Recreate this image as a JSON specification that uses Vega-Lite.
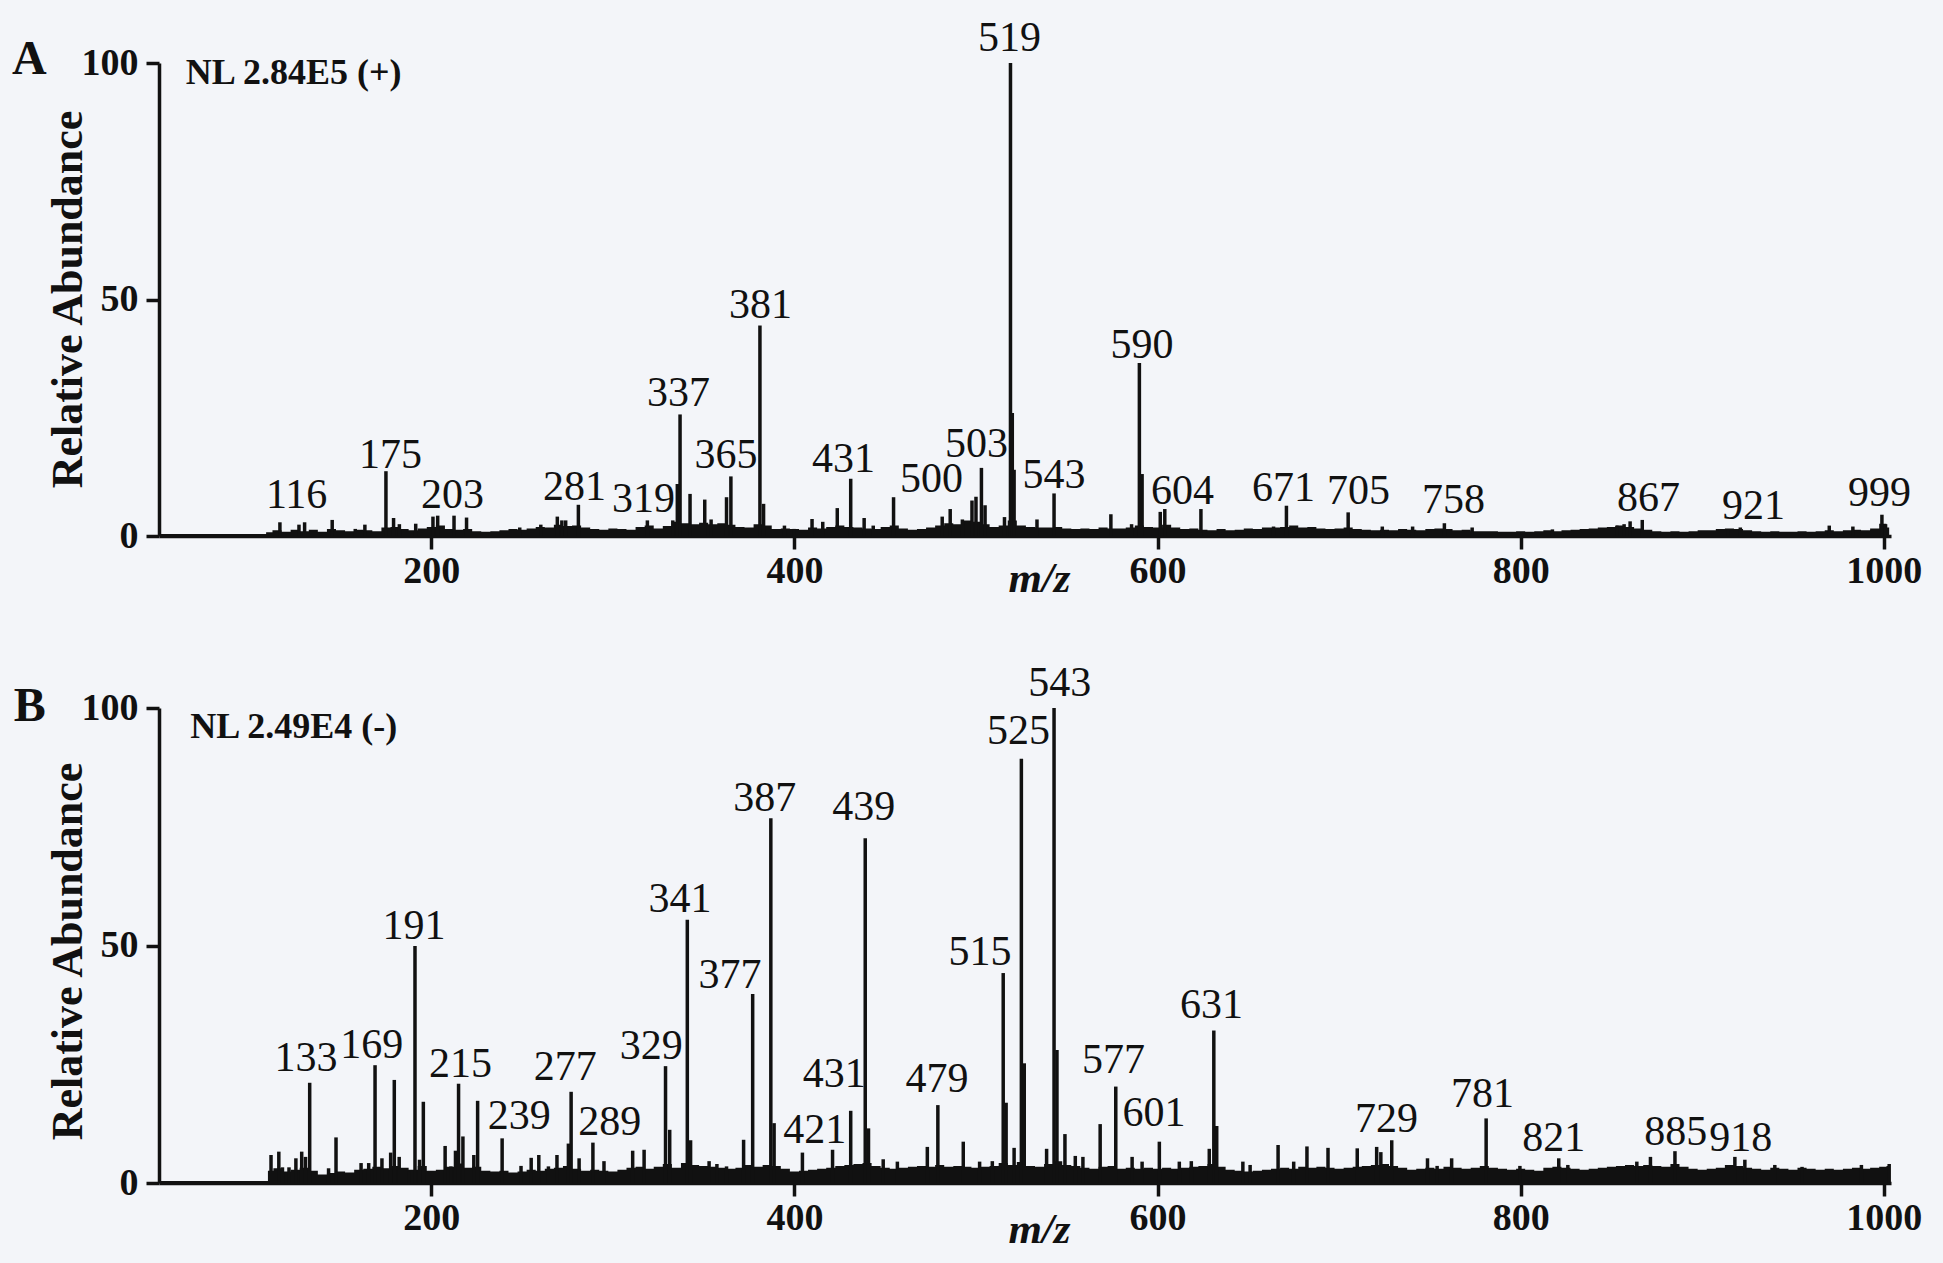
{
"$schema": "https://vega.github.io/schema/vega-lite/v6.json",
"background": "#F3F5F9",
"padding": {"left": 11, "top": 16, "right": 22, "bottom": 16},
"spacing": 61,
"config": {
 "view": {"stroke": null},
 "font": "Liberation Serif",
 "axis": {"domainColor": "#111111", "domainWidth": 3.5, "tickColor": "#111111", "tickWidth": 3.5, "tickSize": 13, "grid": false,
  "labelFont": "Liberation Serif", "labelFontWeight": "bold", "labelFontSize": 38, "labelColor": "#111111", "labelFlush": false, "labelOverlap": false,
  "titleFont": "Liberation Serif", "titleFontWeight": "bold", "titleColor": "#111111"}
},
"datasets": {
 "floorA": [
{"mz":50,"ab":0.4},{"mz":80,"ab":0.4},{"mz":108,"ab":0.4},{"mz":110,"ab":0.8},{"mz":115,"ab":1.2},{"mz":120,"ab":0.9},{"mz":125,"ab":1.3},{"mz":130,"ab":1.0},{"mz":135,"ab":1.3},{"mz":140,"ab":0.9},{"mz":145,"ab":1.5},{"mz":150,"ab":1.2},{"mz":155,"ab":1.0},{"mz":160,"ab":1.3},{"mz":165,"ab":1.2},{"mz":170,"ab":1.0},{"mz":175,"ab":1.8},{"mz":180,"ab":1.9},{"mz":185,"ab":1.5},{"mz":190,"ab":1.2},{"mz":195,"ab":1.6},{"mz":200,"ab":1.9},{"mz":205,"ab":2.2},{"mz":210,"ab":1.5},{"mz":215,"ab":1.3},{"mz":220,"ab":1.5},{"mz":225,"ab":1.0},{"mz":230,"ab":0.9},{"mz":235,"ab":1.0},{"mz":240,"ab":1.2},{"mz":245,"ab":1.5},{"mz":250,"ab":1.3},{"mz":255,"ab":1.6},{"mz":260,"ab":1.9},{"mz":265,"ab":1.8},{"mz":270,"ab":2.4},{"mz":275,"ab":2.1},{"mz":280,"ab":2.2},{"mz":285,"ab":1.8},{"mz":290,"ab":1.5},{"mz":295,"ab":1.3},{"mz":300,"ab":1.6},{"mz":305,"ab":1.5},{"mz":310,"ab":1.3},{"mz":315,"ab":1.9},{"mz":320,"ab":2.2},{"mz":325,"ab":1.6},{"mz":330,"ab":2.1},{"mz":335,"ab":3.0},{"mz":340,"ab":2.7},{"mz":345,"ab":2.5},{"mz":350,"ab":2.8},{"mz":355,"ab":2.5},{"mz":360,"ab":2.7},{"mz":365,"ab":2.4},{"mz":370,"ab":1.9},{"mz":375,"ab":1.8},{"mz":380,"ab":2.5},{"mz":385,"ab":2.2},{"mz":390,"ab":1.5},{"mz":395,"ab":1.6},{"mz":400,"ab":1.5},{"mz":405,"ab":1.3},{"mz":410,"ab":1.8},{"mz":415,"ab":1.6},{"mz":420,"ab":1.9},{"mz":425,"ab":2.2},{"mz":430,"ab":1.9},{"mz":435,"ab":1.8},{"mz":440,"ab":1.6},{"mz":445,"ab":1.5},{"mz":450,"ab":1.9},{"mz":455,"ab":2.2},{"mz":460,"ab":1.6},{"mz":465,"ab":1.3},{"mz":470,"ab":1.5},{"mz":475,"ab":1.8},{"mz":480,"ab":2.2},{"mz":485,"ab":2.7},{"mz":490,"ab":2.5},{"mz":495,"ab":3.3},{"mz":500,"ab":3.0},{"mz":505,"ab":2.5},{"mz":510,"ab":1.9},{"mz":515,"ab":2.2},{"mz":520,"ab":3.3},{"mz":525,"ab":2.2},{"mz":530,"ab":1.9},{"mz":535,"ab":1.8},{"mz":540,"ab":1.8},{"mz":545,"ab":1.9},{"mz":550,"ab":1.6},{"mz":555,"ab":1.5},{"mz":560,"ab":1.6},{"mz":565,"ab":1.5},{"mz":570,"ab":1.8},{"mz":575,"ab":1.6},{"mz":580,"ab":1.6},{"mz":585,"ab":1.8},{"mz":590,"ab":2.2},{"mz":595,"ab":1.9},{"mz":600,"ab":1.8},{"mz":605,"ab":2.4},{"mz":610,"ab":1.8},{"mz":615,"ab":1.5},{"mz":620,"ab":1.6},{"mz":625,"ab":1.3},{"mz":630,"ab":1.2},{"mz":635,"ab":1.5},{"mz":640,"ab":1.2},{"mz":645,"ab":1.3},{"mz":650,"ab":1.6},{"mz":655,"ab":1.5},{"mz":660,"ab":1.8},{"mz":665,"ab":1.8},{"mz":670,"ab":1.9},{"mz":675,"ab":2.2},{"mz":680,"ab":1.8},{"mz":685,"ab":1.9},{"mz":690,"ab":1.6},{"mz":695,"ab":1.5},{"mz":700,"ab":1.6},{"mz":705,"ab":1.8},{"mz":710,"ab":1.5},{"mz":715,"ab":1.3},{"mz":720,"ab":1.2},{"mz":725,"ab":1.3},{"mz":730,"ab":1.2},{"mz":735,"ab":1.5},{"mz":740,"ab":1.3},{"mz":745,"ab":1.2},{"mz":750,"ab":1.5},{"mz":755,"ab":1.6},{"mz":760,"ab":1.5},{"mz":765,"ab":1.2},{"mz":770,"ab":1.3},{"mz":775,"ab":1.0},{"mz":780,"ab":1.0},{"mz":785,"ab":1.0},{"mz":790,"ab":0.9},{"mz":795,"ab":0.9},{"mz":800,"ab":1.0},{"mz":805,"ab":0.9},{"mz":810,"ab":1.0},{"mz":815,"ab":1.2},{"mz":820,"ab":1.0},{"mz":825,"ab":1.2},{"mz":830,"ab":1.3},{"mz":835,"ab":1.5},{"mz":840,"ab":1.6},{"mz":845,"ab":1.8},{"mz":850,"ab":1.9},{"mz":855,"ab":2.2},{"mz":860,"ab":1.9},{"mz":865,"ab":1.6},{"mz":870,"ab":1.3},{"mz":875,"ab":1.0},{"mz":880,"ab":0.9},{"mz":885,"ab":1.0},{"mz":890,"ab":0.9},{"mz":895,"ab":1.0},{"mz":900,"ab":1.2},{"mz":905,"ab":1.2},{"mz":910,"ab":1.5},{"mz":915,"ab":1.6},{"mz":920,"ab":1.5},{"mz":925,"ab":1.2},{"mz":930,"ab":1.0},{"mz":935,"ab":0.9},{"mz":940,"ab":1.0},{"mz":945,"ab":0.9},{"mz":950,"ab":0.9},{"mz":955,"ab":1.0},{"mz":960,"ab":0.9},{"mz":965,"ab":1.0},{"mz":970,"ab":1.2},{"mz":975,"ab":1.0},{"mz":980,"ab":1.2},{"mz":985,"ab":1.3},{"mz":990,"ab":1.2},{"mz":995,"ab":1.6},{"mz":1000,"ab":2.6},{"mz":1003,"ab":1.8}
 ],
 "peaksA": [
{"mz":116.6,"ab":2.9},{"mz":127.1,"ab":2.4},{"mz":130.2,"ab":2.9},{"mz":145.4,"ab":3.4},{"mz":158.1,"ab":1.5},{"mz":163.4,"ab":2.4},{"mz":175,"ab":13.7},{"mz":179.2,"ab":3.8},{"mz":182.4,"ab":2.5},{"mz":191.4,"ab":2.6},{"mz":200.9,"ab":4.1},{"mz":203.5,"ab":4.3},{"mz":212.5,"ab":4.3},{"mz":219.4,"ab":3.9},{"mz":248.7,"ab":1.8},{"mz":260.3,"ab":2.4},{"mz":269.4,"ab":4.1},{"mz":271.9,"ab":3.3},{"mz":274,"ab":3.3},{"mz":281,"ab":6.6},{"mz":319,"ab":3.3},{"mz":333,"ab":3.3},{"mz":335.5,"ab":11},{"mz":337,"ab":25.7},{"mz":342.5,"ab":8.9},{"mz":350.6,"ab":7.7},{"mz":354.1,"ab":3.5},{"mz":362.6,"ab":8.2},{"mz":365,"ab":12.6},{"mz":381,"ab":44.5},{"mz":383,"ab":6.8},{"mz":394.5,"ab":2.2},{"mz":399.8,"ab":1.5},{"mz":409.7,"ab":3.6},{"mz":415.6,"ab":3.0},{"mz":423.6,"ab":5.9},{"mz":431,"ab":12.1},{"mz":438.4,"ab":3.8},{"mz":443.4,"ab":2.2},{"mz":454.6,"ab":8.2},{"mz":481.4,"ab":4.1},{"mz":485.8,"ab":5.7},{"mz":492.5,"ab":3.5},{"mz":497.8,"ab":7.5},{"mz":500,"ab":8.3},{"mz":503,"ab":14.4},{"mz":505,"ab":6.5},{"mz":515.7,"ab":4.0},{"mz":519,"ab":100},{"mz":520,"ab":26},{"mz":521,"ab":14},{"mz":533.6,"ab":3.5},{"mz":543,"ab":9.0},{"mz":574.3,"ab":4.6},{"mz":585.7,"ab":2.5},{"mz":590,"ab":36.6},{"mz":591.5,"ab":13.1},{"mz":601.5,"ab":5.1},{"mz":604,"ab":5.7},{"mz":623.9,"ab":5.7},{"mz":663.9,"ab":2.0},{"mz":671,"ab":6.4},{"mz":705,"ab":5.0},{"mz":723.8,"ab":2.0},{"mz":740.5,"ab":2.0},{"mz":758,"ab":2.7},{"mz":773.3,"ab":1.8},{"mz":817.5,"ab":1.4},{"mz":853,"ab":2.2},{"mz":857,"ab":2.5},{"mz":860.3,"ab":3.1},{"mz":867,"ab":3.4},{"mz":914.3,"ab":1.4},{"mz":921,"ab":1.8},{"mz":970,"ab":2.2},{"mz":983,"ab":2.0},{"mz":999,"ab":4.5},{"mz":1001,"ab":2.5}
 ],
 "labelsA": [
{"label":"116","mz":125.8,"ab":5.9},{"label":"175","mz":177.5,"ab":14.3},{"label":"203","mz":211.6,"ab":5.9},{"label":"281","mz":278.8,"ab":7.7},{"label":"319","mz":316.9,"ab":5.0},{"label":"337","mz":336.2,"ab":27.5},{"label":"365","mz":362.3,"ab":14.3},{"label":"381","mz":381.3,"ab":46.1},{"label":"431","mz":427,"ab":13.6},{"label":"500","mz":475.5,"ab":9.4},{"label":"503","mz":500.3,"ab":16.8},{"label":"519","mz":518.4,"ab":102.6},{"label":"543","mz":543,"ab":10.2},{"label":"590","mz":591.4,"ab":37.7},{"label":"604","mz":613.7,"ab":6.8},{"label":"671","mz":669.4,"ab":7.4},{"label":"705","mz":710.7,"ab":6.8},{"label":"758","mz":763,"ab":4.9},{"label":"867","mz":870.4,"ab":5.3},{"label":"921","mz":928.2,"ab":3.6},{"label":"999","mz":997.6,"ab":6.4}
 ],
 "notesA": [{"label":"NL 2.84E5 (+)","mz":64.8,"ab":97.9}],
 "tagA": [{"label":"A","mz":-31,"ab":97.7}],
 "floorB": [
{"mz":50,"ab":0.4},{"mz":80,"ab":0.4},{"mz":109,"ab":0.4},{"mz":111,"ab":2.6},{"mz":115,"ab":3.1},{"mz":120,"ab":2.4},{"mz":125,"ab":2.8},{"mz":130,"ab":3.2},{"mz":135,"ab":2.6},{"mz":140,"ab":1.8},{"mz":145,"ab":2.1},{"mz":150,"ab":2.4},{"mz":155,"ab":2.2},{"mz":160,"ab":2.8},{"mz":165,"ab":3.0},{"mz":170,"ab":3.4},{"mz":175,"ab":3.1},{"mz":180,"ab":3.6},{"mz":185,"ab":3.2},{"mz":190,"ab":2.8},{"mz":195,"ab":3.6},{"mz":200,"ab":2.6},{"mz":205,"ab":2.8},{"mz":210,"ab":3.4},{"mz":215,"ab":4.1},{"mz":220,"ab":3.2},{"mz":225,"ab":3.4},{"mz":230,"ab":2.6},{"mz":235,"ab":2.4},{"mz":240,"ab":2.6},{"mz":245,"ab":2.2},{"mz":250,"ab":2.4},{"mz":255,"ab":2.8},{"mz":260,"ab":2.6},{"mz":265,"ab":3.0},{"mz":270,"ab":3.2},{"mz":275,"ab":3.6},{"mz":280,"ab":3.0},{"mz":285,"ab":2.6},{"mz":290,"ab":2.8},{"mz":295,"ab":2.6},{"mz":300,"ab":2.4},{"mz":305,"ab":2.8},{"mz":310,"ab":3.2},{"mz":315,"ab":3.4},{"mz":320,"ab":3.0},{"mz":325,"ab":3.4},{"mz":330,"ab":4.0},{"mz":335,"ab":3.2},{"mz":340,"ab":4.2},{"mz":345,"ab":3.8},{"mz":350,"ab":3.6},{"mz":355,"ab":3.4},{"mz":360,"ab":3.2},{"mz":365,"ab":3.0},{"mz":370,"ab":3.2},{"mz":375,"ab":3.8},{"mz":380,"ab":3.4},{"mz":385,"ab":3.8},{"mz":390,"ab":3.6},{"mz":395,"ab":3.0},{"mz":400,"ab":2.4},{"mz":405,"ab":2.6},{"mz":410,"ab":2.8},{"mz":415,"ab":3.0},{"mz":420,"ab":3.2},{"mz":425,"ab":3.6},{"mz":430,"ab":3.8},{"mz":435,"ab":4.0},{"mz":440,"ab":4.2},{"mz":445,"ab":3.6},{"mz":450,"ab":3.2},{"mz":455,"ab":3.0},{"mz":460,"ab":3.2},{"mz":465,"ab":3.4},{"mz":470,"ab":3.6},{"mz":475,"ab":3.4},{"mz":480,"ab":3.8},{"mz":485,"ab":3.4},{"mz":490,"ab":3.6},{"mz":495,"ab":3.4},{"mz":500,"ab":3.2},{"mz":505,"ab":3.4},{"mz":510,"ab":3.6},{"mz":515,"ab":4.2},{"mz":520,"ab":3.8},{"mz":525,"ab":4.4},{"mz":530,"ab":3.6},{"mz":535,"ab":3.4},{"mz":540,"ab":4.0},{"mz":545,"ab":4.6},{"mz":550,"ab":3.8},{"mz":555,"ab":3.6},{"mz":560,"ab":3.2},{"mz":565,"ab":3.0},{"mz":570,"ab":3.4},{"mz":575,"ab":3.6},{"mz":580,"ab":3.0},{"mz":585,"ab":3.2},{"mz":590,"ab":3.0},{"mz":595,"ab":3.2},{"mz":600,"ab":3.0},{"mz":605,"ab":3.2},{"mz":610,"ab":3.0},{"mz":615,"ab":3.2},{"mz":620,"ab":3.4},{"mz":625,"ab":3.6},{"mz":630,"ab":4.0},{"mz":635,"ab":3.4},{"mz":640,"ab":2.8},{"mz":645,"ab":2.6},{"mz":650,"ab":2.4},{"mz":655,"ab":2.6},{"mz":660,"ab":2.8},{"mz":665,"ab":3.0},{"mz":670,"ab":3.2},{"mz":675,"ab":3.0},{"mz":680,"ab":3.4},{"mz":685,"ab":3.2},{"mz":690,"ab":3.4},{"mz":695,"ab":3.2},{"mz":700,"ab":3.0},{"mz":705,"ab":3.2},{"mz":710,"ab":3.4},{"mz":715,"ab":3.6},{"mz":720,"ab":3.8},{"mz":725,"ab":4.0},{"mz":730,"ab":3.6},{"mz":735,"ab":3.2},{"mz":740,"ab":2.8},{"mz":745,"ab":3.0},{"mz":750,"ab":3.2},{"mz":755,"ab":3.0},{"mz":760,"ab":3.4},{"mz":765,"ab":3.2},{"mz":770,"ab":3.0},{"mz":775,"ab":3.2},{"mz":780,"ab":3.6},{"mz":785,"ab":3.2},{"mz":790,"ab":3.0},{"mz":795,"ab":2.8},{"mz":800,"ab":3.0},{"mz":805,"ab":2.8},{"mz":810,"ab":2.6},{"mz":815,"ab":3.2},{"mz":820,"ab":3.4},{"mz":825,"ab":3.2},{"mz":830,"ab":3.0},{"mz":835,"ab":2.8},{"mz":840,"ab":3.0},{"mz":845,"ab":3.2},{"mz":850,"ab":3.4},{"mz":855,"ab":3.6},{"mz":860,"ab":3.8},{"mz":865,"ab":3.6},{"mz":870,"ab":3.8},{"mz":875,"ab":3.6},{"mz":880,"ab":3.4},{"mz":885,"ab":4.0},{"mz":890,"ab":3.4},{"mz":895,"ab":3.0},{"mz":900,"ab":2.8},{"mz":905,"ab":3.0},{"mz":910,"ab":3.2},{"mz":915,"ab":3.8},{"mz":920,"ab":3.6},{"mz":925,"ab":3.2},{"mz":930,"ab":3.0},{"mz":935,"ab":2.8},{"mz":940,"ab":3.2},{"mz":945,"ab":3.0},{"mz":950,"ab":2.8},{"mz":955,"ab":3.2},{"mz":960,"ab":3.0},{"mz":965,"ab":2.8},{"mz":970,"ab":3.0},{"mz":975,"ab":2.8},{"mz":980,"ab":3.0},{"mz":985,"ab":3.2},{"mz":990,"ab":3.0},{"mz":995,"ab":3.2},{"mz":1000,"ab":3.4},{"mz":1003,"ab":3.6}
 ],
 "peaksB": [
{"mz":111.7,"ab":5.9},{"mz":116,"ab":6.6},{"mz":118,"ab":3.3},{"mz":121.6,"ab":3.3},{"mz":125.4,"ab":5.2},{"mz":128.6,"ab":6.6},{"mz":130.7,"ab":5.5},{"mz":133,"ab":21.1},{"mz":143.4,"ab":3.1},{"mz":147.5,"ab":9.6},{"mz":161.3,"ab":4.2},{"mz":165.5,"ab":4.2},{"mz":169,"ab":24.8},{"mz":172.8,"ab":5.2},{"mz":177.6,"ab":6.4},{"mz":179.6,"ab":21.7},{"mz":182.3,"ab":5.5},{"mz":187.6,"ab":2.5},{"mz":191,"ab":49.9},{"mz":193.5,"ab":4.9},{"mz":195.6,"ab":17.1},{"mz":207.6,"ab":7.8},{"mz":210.8,"ab":3.5},{"mz":213.3,"ab":6.8},{"mz":215,"ab":20.9},{"mz":217.4,"ab":9.8},{"mz":223.4,"ab":5.9},{"mz":225.5,"ab":17.3},{"mz":239,"ab":9.4},{"mz":249.4,"ab":3.6},{"mz":255,"ab":5.3},{"mz":259.2,"ab":5.9},{"mz":264.5,"ab":3.5},{"mz":269.2,"ab":5.9},{"mz":275.5,"ab":8.3},{"mz":277,"ab":19.2},{"mz":281.4,"ab":5.2},{"mz":289,"ab":8.5},{"mz":295.1,"ab":4.6},{"mz":310.9,"ab":6.8},{"mz":317.2,"ab":7.0},{"mz":329,"ab":24.6},{"mz":331.3,"ab":11.2},{"mz":341,"ab":55.4},{"mz":342.8,"ab":9.0},{"mz":353,"ab":4.6},{"mz":357.3,"ab":4.0},{"mz":362.6,"ab":3.5},{"mz":372,"ab":9.1},{"mz":377,"ab":39.8},{"mz":387,"ab":76.8},{"mz":388.8,"ab":12.6},{"mz":404.4,"ab":6.4},{"mz":421,"ab":7.0},{"mz":431,"ab":15.2},{"mz":439,"ab":72.6},{"mz":440.8,"ab":11.5},{"mz":448.9,"ab":5.0},{"mz":456.7,"ab":4.5},{"mz":473.2,"ab":7.6},{"mz":479,"ab":16.4},{"mz":493,"ab":8.7},{"mz":502,"ab":4.5},{"mz":509,"ab":4.6},{"mz":515,"ab":44.2},{"mz":516.6,"ab":16.9},{"mz":521,"ab":7.4},{"mz":525,"ab":89.3},{"mz":526.6,"ab":25.2},{"mz":538.9,"ab":7.2},{"mz":543,"ab":100},{"mz":544.6,"ab":28},{"mz":549,"ab":10.3},{"mz":554.7,"ab":5.7},{"mz":558.9,"ab":5.5},{"mz":568.4,"ab":12.4},{"mz":577,"ab":20.3},{"mz":586,"ab":5.5},{"mz":591.5,"ab":4.5},{"mz":601,"ab":8.7},{"mz":612,"ab":4.5},{"mz":618.6,"ab":4.6},{"mz":628.5,"ab":7.2},{"mz":631,"ab":32.1},{"mz":632.6,"ab":12},{"mz":647,"ab":4.5},{"mz":651,"ab":3.8},{"mz":666.4,"ab":8.0},{"mz":675,"ab":4.5},{"mz":682.3,"ab":7.7},{"mz":693.9,"ab":7.4},{"mz":710,"ab":7.3},{"mz":720.7,"ab":7.6},{"mz":723,"ab":6.5},{"mz":729,"ab":9.0},{"mz":748.7,"ab":5.2},{"mz":754,"ab":3.6},{"mz":762,"ab":5.2},{"mz":781,"ab":13.6},{"mz":799.6,"ab":3.6},{"mz":821,"ab":5.2},{"mz":826,"ab":3.8},{"mz":864,"ab":4.5},{"mz":871.5,"ab":5.5},{"mz":885,"ab":6.7},{"mz":918,"ab":5.5},{"mz":923.5,"ab":4.9},{"mz":940,"ab":3.8},{"mz":955,"ab":3.4},{"mz":987.7,"ab":3.8},{"mz":1003,"ab":4.0}
 ],
 "labelsB": [
{"label":"133","mz":130.9,"ab":23.6},{"label":"169","mz":167.2,"ab":26.3},{"label":"191","mz":190.4,"ab":51.4},{"label":"215","mz":216,"ab":22.3},{"label":"239","mz":248.4,"ab":11.3},{"label":"277","mz":273.7,"ab":21.6},{"label":"289","mz":298.3,"ab":10.2},{"label":"329","mz":321.1,"ab":26.1},{"label":"341","mz":337,"ab":57},{"label":"377","mz":364.5,"ab":41.1},{"label":"387","mz":383.7,"ab":78.4},{"label":"421","mz":411.2,"ab":8.5},{"label":"431","mz":421.9,"ab":20.2},{"label":"439","mz":438.2,"ab":76.5},{"label":"479","mz":478.5,"ab":19.1},{"label":"515","mz":502.2,"ab":45.9},{"label":"525","mz":523.4,"ab":92.4},{"label":"543","mz":546.1,"ab":102.6},{"label":"577","mz":575.7,"ab":23.2},{"label":"601","mz":598,"ab":11.9},{"label":"631","mz":629.7,"ab":34.7},{"label":"729","mz":726.1,"ab":10.8},{"label":"781","mz":779,"ab":16},{"label":"821","mz":818.2,"ab":6.8},{"label":"885","mz":885.4,"ab":7.9},{"label":"918","mz":921.3,"ab":6.8}
 ],
 "notesB": [{"label":"NL 2.49E4 (-)","mz":67.2,"ab":96.1}],
 "tagB": [{"label":"B","mz":-30,"ab":97.2}]
},
"vconcat": [
 {
  "width": 1732, "height": 473,
  "encoding": {
   "x": {"field": "mz", "type": "quantitative", "scale": {"domain": [50, 1004], "nice": false, "zero": false},
     "axis": {"title": "m/z", "values": [200, 400, 600, 800, 1000], "format": "d", "labelPadding": 3, "titleFontStyle": "italic", "titleFontSize": 43, "titleX": 880, "titleY": 55, "titleBaseline": "alphabetic", "titleAlign": "center"}},
   "y": {"field": "ab", "type": "quantitative", "scale": {"domain": [0, 100], "nice": false},
     "axis": {"title": "Relative Abundance", "values": [0, 50, 100], "format": "d", "labelPadding": 8, "titleFontSize": 44, "titleX": -78, "titleY": 236, "titleBaseline": "alphabetic", "titleAlign": "center", "titleAngle": -90}}
  },
  "layer": [
   {"data": {"name": "floorA"}, "mark": {"type": "area", "interpolate": "step", "color": "#111111"}},
   {"data": {"name": "peaksA"}, "mark": {"type": "rule", "color": "#111111", "strokeWidth": 3.5}, "encoding": {"y2": {"datum": 0}}},
   {"data": {"name": "labelsA"}, "mark": {"type": "text", "font": "Liberation Serif", "fontSize": 42, "color": "#111111", "align": "center", "baseline": "alphabetic"}, "encoding": {"text": {"field": "label"}}},
   {"data": {"name": "notesA"}, "mark": {"type": "text", "font": "Liberation Serif", "fontSize": 36, "fontWeight": "bold", "color": "#111111", "align": "left", "baseline": "middle"}, "encoding": {"text": {"field": "label"}}},
   {"data": {"name": "tagA"}, "mark": {"type": "text", "font": "Liberation Serif", "fontSize": 48, "fontWeight": "bold", "color": "#111111", "align": "left", "baseline": "alphabetic"}, "encoding": {"text": {"field": "label"}}}
  ]
 },
 {
  "width": 1732, "height": 475,
  "encoding": {
   "x": {"field": "mz", "type": "quantitative", "scale": {"domain": [50, 1004], "nice": false, "zero": false},
     "axis": {"title": "m/z", "values": [200, 400, 600, 800, 1000], "format": "d", "labelPadding": 3, "titleFontStyle": "italic", "titleFontSize": 43, "titleX": 880, "titleY": 59, "titleBaseline": "alphabetic", "titleAlign": "center"}},
   "y": {"field": "ab", "type": "quantitative", "scale": {"domain": [0, 100], "nice": false},
     "axis": {"title": "Relative Abundance", "values": [0, 50, 100], "format": "d", "labelPadding": 8, "titleFontSize": 44, "titleX": -78, "titleY": 243, "titleBaseline": "alphabetic", "titleAlign": "center", "titleAngle": -90}}
  },
  "layer": [
   {"data": {"name": "floorB"}, "mark": {"type": "area", "interpolate": "step", "color": "#111111"}},
   {"data": {"name": "peaksB"}, "mark": {"type": "rule", "color": "#111111", "strokeWidth": 3.5}, "encoding": {"y2": {"datum": 0}}},
   {"data": {"name": "labelsB"}, "mark": {"type": "text", "font": "Liberation Serif", "fontSize": 42, "color": "#111111", "align": "center", "baseline": "alphabetic"}, "encoding": {"text": {"field": "label"}}},
   {"data": {"name": "notesB"}, "mark": {"type": "text", "font": "Liberation Serif", "fontSize": 36, "fontWeight": "bold", "color": "#111111", "align": "left", "baseline": "middle"}, "encoding": {"text": {"field": "label"}}},
   {"data": {"name": "tagB"}, "mark": {"type": "text", "font": "Liberation Serif", "fontSize": 48, "fontWeight": "bold", "color": "#111111", "align": "left", "baseline": "alphabetic"}, "encoding": {"text": {"field": "label"}}}
  ]
 }
]
}
